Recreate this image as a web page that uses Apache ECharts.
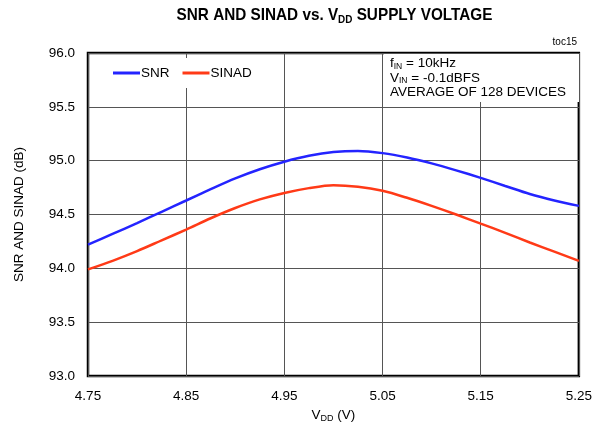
<!DOCTYPE html>
<html>
<head>
<meta charset="utf-8">
<script src="https://cdn.jsdelivr.net/npm/echarts@6/dist/echarts.min.js"></script>
<style>
  html, body { margin: 0; padding: 0; background: #fff; }
  #chart { width: 595px; height: 429px; }
</style>
</head>
<body>
<div id="chart"></div>
<script>
  // 数据：VDD 电压（V）和对应的 SNR / SINAD（dB）
  var vdd = [4.750, 4.775, 4.800, 4.825, 4.850, 4.875, 4.900, 4.925, 4.950, 4.975, 5.000,
             5.025, 5.050, 5.075, 5.100, 5.125, 5.150, 5.175, 5.200, 5.225, 5.250]
  var snr = [94.22, 94.32, 94.42, 94.525, 94.63, 94.735, 94.835, 94.92, 94.99, 95.045, 95.08,
             95.09, 95.07, 95.03, 94.975, 94.91, 94.84, 94.765, 94.69, 94.63, 94.58]
  var sinad = [93.99, 94.07, 94.16, 94.26, 94.36, 94.465, 94.56, 94.64, 94.70, 94.745, 94.772,
               94.758, 94.72, 94.655, 94.58, 94.50, 94.415, 94.33, 94.24, 94.155, 94.07]
  var seriesNames = ['SNR', 'SINAD']
  var noteLines = ['f{s|IN} = 10kHz', 'V{s|IN} = -0.1dBFS', 'AVERAGE OF 128 DEVICES']

  var font = "'Liberation Sans', Arial, sans-serif"

  function pairs (xs, ys) {
    return xs.map(function (x, i) { return [x, ys[i]] })
  }

  var option = {
    backgroundColor: '#fff',
    animation: false,
    legend: {
      left: 100,
      top: 58,
      padding: [8, 12, 8, 13],
      backgroundColor: '#fff',
      itemWidth: 27,
      itemHeight: 3,
      itemGap: 13,
      icon: 'rect',
      textStyle: { fontFamily: font, fontSize: 13.5, color: '#000', padding: [0, 0, 0, -4] },
      data: seriesNames
    },
    grid: {
      left: 88,
      right: 14,
      top: 53,
      bottom: 53,
      show: true,
      borderColor: '#000',
      borderWidth: 2.5,
      backgroundColor: 'transparent'
    },
    xAxis: {
      type: 'value',
      min: 4.75,
      max: 5.25,
      interval: 0.1,
      name: 'V{s|DD} (V)',
      nameLocation: 'middle',
      nameGap: 31,
      nameTextStyle: {
        fontFamily: font, fontSize: 13.5, color: '#000',
        rich: { s: { fontFamily: font, fontSize: 9, color: '#000', padding: [7, 0, 0, 0] } }
      },
      axisLine: { show: false },
      axisTick: { show: false },
      axisLabel: {
        margin: 13,
        fontFamily: font,
        fontSize: 13.5,
        color: '#000',
        formatter: function (v) { return v.toFixed(2) }
      },
      splitLine: { show: true, lineStyle: { color: '#555', width: 1 } }
    },
    yAxis: {
      type: 'value',
      min: 93,
      max: 96,
      interval: 0.5,
      name: 'SNR AND SINAD (dB)',
      nameLocation: 'middle',
      nameGap: 62,
      nameTextStyle: { fontFamily: font, fontSize: 13.5, color: '#000' },
      axisLine: { show: false },
      axisTick: { show: false },
      axisLabel: {
        margin: 13,
        fontFamily: font,
        fontSize: 13.5,
        color: '#000',
        formatter: function (v) { return v.toFixed(1) }
      },
      splitLine: { show: true, lineStyle: { color: '#555', width: 1 } }
    },
    graphic: [
      //标题，字体窄一点
      {
        type: 'text',
        x: 334.5,
        y: 5,
        scaleX: 0.9,
        style: {
          text: 'SNR AND SINAD vs. V{s|DD} SUPPLY VOLTAGE',
          x: 0,
          y: 0,
          textAlign: 'center',
          fontFamily: font,
          fontWeight: 'bold',
          fontSize: 17,
          fill: '#000',
          rich: {
            s: { fontFamily: font, fontWeight: 'bold', fontSize: 11, fill: '#000', padding: [9, 0, 0, 0] }
          }
        }
      },
      //右上角的说明框
      {
        type: 'rect',
        z: 5,
        shape: { x: 384, y: 54, width: 195, height: 48 },
        style: { fill: '#fff' }
      },
      {
        type: 'text',
        z: 6,
        left: 390,
        top: 56,
        style: {
          text: noteLines.join('\n'),
          fontFamily: font,
          fontSize: 13.5,
          lineHeight: 14.5,
          fill: '#000',
          rich: {
            s: { fontFamily: font, fontSize: 8.5, lineHeight: 14.5, fill: '#000', padding: [6, 0, 0, 0] }
          }
        }
      },
      {
        type: 'text',
        right: 18,
        top: 37,
        style: { text: 'toc15', fontFamily: font, fontSize: 10, fill: '#000' }
      }
    ],
    series: [
      {
        name: seriesNames[0],
        type: 'line',
        data: pairs(vdd, snr),
        smooth: 0.3,
        showSymbol: false,
        color: '#2424ff',
        lineStyle: { width: 2.5, color: '#2424ff' }
      },
      {
        name: seriesNames[1],
        type: 'line',
        data: pairs(vdd, sinad),
        smooth: 0.3,
        showSymbol: false,
        color: '#ff3a17',
        lineStyle: { width: 2.5, color: '#ff3a17' }
      }
    ]
  }

  var myChart = echarts.init(document.getElementById('chart'))
  myChart.setOption(option)
</script>
</body>
</html>
